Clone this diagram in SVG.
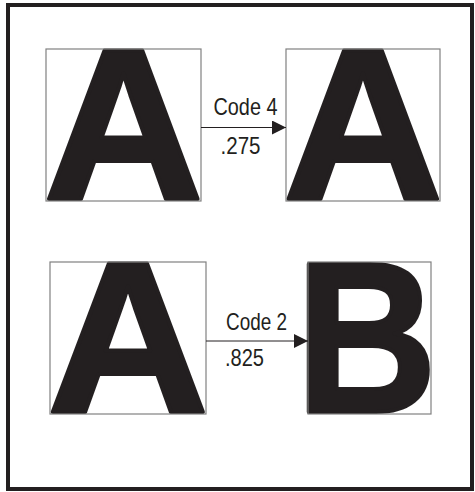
<svg xmlns="http://www.w3.org/2000/svg" width="475" height="492" viewBox="0 0 475 492">
  <style>
    .frame { fill: #ffffff; stroke: #231f20; stroke-width: 4; }
    .box { fill: none; stroke: #808080; stroke-width: 1.2; }
    .glyph { font-family: "Liberation Sans", Arial, sans-serif; font-weight: bold; font-size: 215px; fill: #231f20; stroke: #231f20; stroke-width: 4; stroke-linejoin: round; }
    .mid { text-anchor: middle; }
    .label { font-family: "Liberation Sans Narrow", "Liberation Sans", Arial, sans-serif; font-size: 24px; fill: #231f20; }
    .conn { stroke: #231f20; stroke-width: 1; fill: none; }
  </style>
  <defs>
    <marker id="arrow" viewBox="0 0 14 14" refX="14" refY="7" markerWidth="14" markerHeight="14" markerUnits="userSpaceOnUse" orient="auto">
      <path d="M0,0 L14,7 L0,14 Z" fill="#231f20"/>
    </marker>
  </defs>
  <rect class="frame" x="8" y="5" width="464" height="484"/>

  <g id="node-a1">
    <text class="glyph mid" transform="translate(123.5,199) scale(1.03,1)" x="0" y="0">A</text>
    <rect class="box" x="46" y="49" width="155" height="152"/>
  </g>
  <g id="node-a2">
    <text class="glyph mid" transform="translate(363,199) scale(1.03,1)" x="0" y="0">A</text>
    <rect class="box" x="286" y="49" width="154" height="152"/>
  </g>
  <g id="node-a3">
    <text class="glyph mid" transform="translate(128,412) scale(1.04,1)" x="0" y="0">A</text>
    <rect class="box" x="50" y="262" width="156" height="152"/>
  </g>
  <g id="node-b">
    <text class="glyph" transform="translate(295.5,412) scale(0.91,1)" x="0" y="0">B</text>
    <rect class="box" x="308" y="262" width="123" height="152"/>
  </g>

  <g id="connectors">
    <line class="conn" x1="201" y1="127.5" x2="286" y2="127.5" marker-end="url(#arrow)"/>
    <line class="conn" x1="206" y1="341" x2="308" y2="341" marker-end="url(#arrow)"/>
    <text class="label" x="213.5" y="115" textLength="64" lengthAdjust="spacingAndGlyphs">Code 4</text>
    <text class="label" x="220.5" y="154" textLength="40" lengthAdjust="spacingAndGlyphs">.275</text>
    <text class="label" x="226" y="329.5" textLength="61" lengthAdjust="spacingAndGlyphs">Code 2</text>
    <text class="label" x="225" y="366" textLength="39" lengthAdjust="spacingAndGlyphs">.825</text>
  </g>
</svg>
